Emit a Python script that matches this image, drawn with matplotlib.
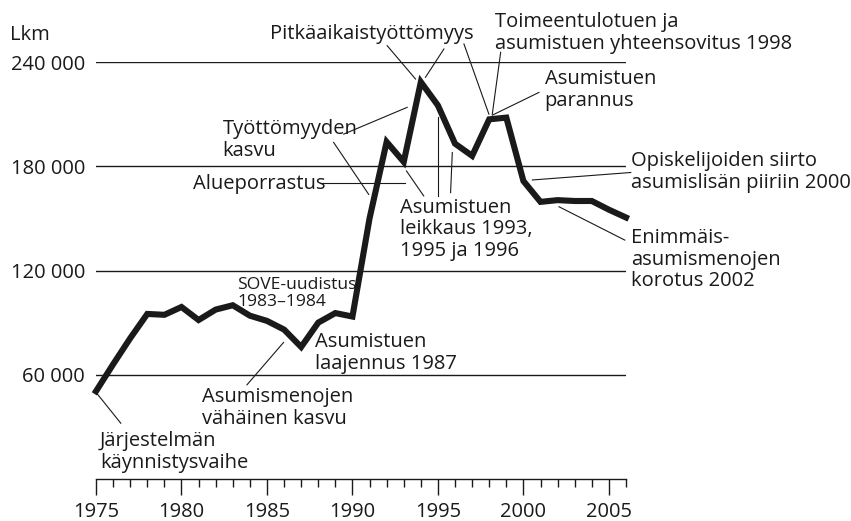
import matplotlib.pyplot as plt
import numpy as np

plt.rcParams['font.family'] = ['Open Sans', 'DejaVu Sans']

years = np.arange(1975, 2007)
# asumistuen saajat, lkm
saajat = [50500, 66000, 81000, 95000, 94500, 99000, 91500, 97500, 100000, 94000,
          91000, 86000, 76000, 90000, 95500, 93500, 150000, 194000, 182500, 228500,
          215000, 193000, 186000, 207000, 208000, 171500, 159500, 160500, 160000, 160000,
          155000, 150500]

y_ticks = [60000, 120000, 180000, 240000]
y_labels = ["60 000", "120 000", "180 000", "240 000"]
x_major = [1975, 1980, 1985, 1990, 1995, 2000, 2005]

# tekstit: (teksti, vuosi, arvo) - viimeisen rivin alaviiva
notes = [
    ("Pitkäaikaistyöttömyys", 1985.2, 253300),
    ("Toimeentulotuen ja\nasumistuen yhteensovitus 1998", 1998.33, 247500),
    ("Asumistuen\nparannus", 2001.24, 214800),
    ("Opiskelijoiden siirto\nasumislisän piiriin 2000", 2006.28, 167700),
    ("Enimmäis-\nasumismenojen\nkorotus 2002", 2006.28, 110900),
    ("Asumistuen\nleikkaus 1993,\n1995 ja 1996", 1992.81, 128200),
    ("Työttömyyden\nkasvu", 1982.4, 185900),
    ("Alueporrastus", 1980.66, 166700),
    ("Asumistuen\nlaajennus 1987", 1987.79, 63500),
    ("Asumismenojen\nvähäinen kasvu", 1981.19, 31700),
    ("Järjestelmän\nkäynnistysvaihe", 1975.23, 6200),
]

# viivat: ((x0, y0), (x1, y1))
leaders = [
    ((1992.03, 249400), (1993.69, 230200)),
    ((1995.35, 247500), (1994.27, 231200)),
    ((1996.52, 250400), (1997.98, 210000)),
    ((1998.67, 245600), (1998.18, 210000)),
    ((2000.91, 222500), (1998.18, 209400)),
    ((2006.28, 176400), (2000.52, 172100)),
    ((2002.08, 156700), (2005.93, 137500)),
    ((1993.16, 177300), (1994.17, 162900)),
    ((1995.01, 208100), (1995.01, 162700)),
    ((1995.84, 187900), (1995.74, 164800)),
    ((1989.49, 198500), (1993.2, 213900)),
    ((1988.9, 193700), (1990.95, 163800)),
    ((1988.12, 170600), (1993.1, 170600)),
    ((1983.83, 54200), (1985.97, 78600)),
    ((1975.04, 49400), (1976.45, 32100)),
]

ink = "#1a1a1a"
fig = plt.figure(figsize=(8.51, 5.21), dpi=100)
ax = fig.add_axes([96/851, 42/521, 530/851, 417/521])
ax.set_xlim(1975, 2006)
ax.set_ylim(0, 240000)

for v in y_ticks:
    ax.axhline(v, color=ink, lw=1.0, zorder=1)

ax.plot(years, saajat, color=ink, lw=4.4, solid_joinstyle='miter', zorder=3, clip_on=False)

for (x0, y0), (x1, y1) in leaders:
    ax.plot([x0, x1], [y0, y1], color=ink, lw=0.8, zorder=2, clip_on=False)

for txt, x, y in notes:
    ax.text(x, y, txt, fontsize=14.5, color=ink, ha='left', va='baseline',
            linespacing=1.12, clip_on=False)
ax.text(1983.26, 99400, "SOVE-uudistus\n1983–1984", fontsize=12.6, color=ink,
        ha='left', va='baseline', linespacing=1.12)

fig.text(10/851, 1 - 40/521, "Lkm", fontsize=14.5, color=ink, ha='left', va='baseline')

for s in ['top', 'right', 'left']:
    ax.spines[s].set_visible(False)
ax.spines['bottom'].set_color(ink)
ax.spines['bottom'].set_linewidth(1.0)

ax.set_yticks(y_ticks, y_labels)
ax.tick_params(axis='y', length=0, pad=8, labelsize=14.5, labelcolor=ink)
ax.set_xticks(x_major, [str(x) for x in x_major])
ax.set_xticks(years, minor=True)
ax.tick_params(axis='x', which='major', direction='out', length=11.5, width=1.0,
               color=ink, labelsize=14.5, labelcolor=ink, pad=5)
ax.tick_params(axis='x', which='minor', direction='out', length=6, width=1.0, color=ink)

fig.savefig("out.png", dpi=100)
